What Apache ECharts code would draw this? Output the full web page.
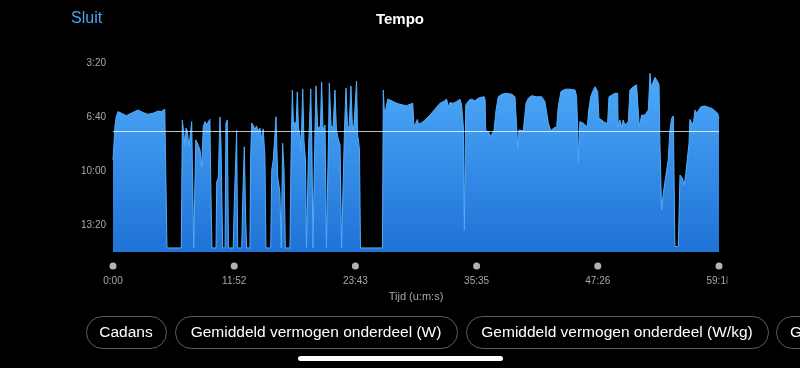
<!DOCTYPE html>
<html>
<head>
<meta charset="utf-8">
<script src="https://cdn.jsdelivr.net/npm/echarts@6/dist/echarts.min.js"></script>
<style>
html,body{margin:0;padding:0;background:#000;}
#c{width:800px;height:368px;}
</style>
</head>
<body>
<div id="c"></div>
<script>
// Time (s) and pace (s per km) samples
var paceTimes = [0,12,19,29,49,78,107,147,176,205,235,264,284,304,313,317,
401,407,413,423,429,436,446,456,462,468,474,481,486,495,505,511,521,530,540,550,560,569,575,581,
605,609,618,628,634,644,658,663,671,678,706,712,726,732,756,761,771,779,785,
804,808,814,825,834,842,853,863,873,882,892,898,926,932,941,957,967,980,988,992,996,1004,1012,1039,
1045,1053,1060,1069,1074,1082,1089,1098,1104,1114,1121,1130,1136,1142,1148,1161,1168,1174,1183,
1186,1192,1201,1209,1218,1225,1233,1245,1253,1262,1266,1270,1280,1292,1303,1312,1321,1333,1342,
1353,1359,1368,1377,1386,1397,1406,1415,1430,1436,1441,1447,1453,1582,
1587,1593,1603,1613,1626,1646,1666,1685,1704,1724,1744,1760,1767,1777,1787,1793,1812,1832,1861,
1890,1920,1939,1959,1968,1978,1998,2018,2037,2047,2057,2063,2071,2080,2092,2106,2125,2143,2161,
2179,2185,2188,2204,2218,2227,2237,2249,2262,2282,2311,2341,2360,2370,2376,2384,2394,2409,2425,
2438,2458,2487,2517,2536,2556,2571,2585,2605,2614,2630,2654,2683,2713,2722,2728,2732,2741,2761,
2785,2793,2805,2816,2830,2846,2853,2869,2889,2904,2912,2928,2947,2963,2966,2976,2986,2996,3005,
3015,3025,3035,3055,3074,3084,3090,3104,3123,3133,3143,3153,3159,3172,3182,3198,3206,3211,3221,
3231,3245,3260,3270,3280,3290,3299,3319,3329,3343,3354,3363,3372,3382,3387,3398,3407,3417,3427,
3437,3452,3476,3495,3515,3534,3550,3558];
var paceValues = [559,430,400,380,386,395,386,374,383,390,386,378,380,371,371,885,
885,411,405,504,441,452,510,504,417,420,885,885,485,496,491,522,584,436,417,430,417,409,681,885,
885,640,626,400,496,885,885,423,411,885,885,719,450,885,885,719,510,781,885,
885,559,422,433,448,433,452,441,485,444,547,885,885,596,559,399,621,681,885,885,497,596,885,885,
559,300,430,419,448,307,441,467,522,296,485,559,885,885,522,296,522,885,885,
448,285,430,448,430,270,448,430,885,885,448,274,430,441,300,448,478,504,885,
885,448,293,433,441,285,448,430,267,467,485,522,885,885,
300,380,368,334,337,343,349,353,356,358,353,349,436,423,409,427,421,411,393,
371,349,343,334,362,347,349,343,334,356,436,819,356,347,337,334,340,331,327,
325,337,451,454,473,460,451,374,325,316,312,316,325,436,516,448,444,451,349,
331,321,325,325,343,423,451,442,436,362,306,297,297,300,325,436,566,417,423,
436,374,325,306,288,306,405,411,421,423,325,319,312,312,436,411,436,411,430,
436,417,300,288,281,279,436,393,393,386,374,238,288,269,253,269,281,496,744,
683,621,559,448,405,396,880,880,615,627,652,609,609,497,409,411,430,374,386,
380,362,359,364,368,377,386,405];
var averagePace = 452;
var yTicks = [200, 400, 600, 800];
var xTickStep = 711.6;
var totalTime = 3558;
var titleText = 'Tempo';
var closeText = 'Sluit';
var xAxisTitle = 'Tijd (u:m:s)';
var chipLabels = ['Cadans', 'Gemiddeld vermogen onderdeel (W)', 'Gemiddeld vermogen onderdeel (W/kg)', 'G'];

function fmt(v) {
  var s = Math.round(v);
  var m = Math.floor(s / 60);
  var r = s % 60;
  return m + ':' + (r < 10 ? '0' : '') + r;
}

var seriesData = paceTimes.map(function (t, i) { return [t, paceValues[i]]; });
var FONT = '"Liberation Sans", Arial, sans-serif';

var chart = echarts.init(document.getElementById('c'), null, {renderer: 'canvas'});

// chips (pills) layout
var chipX = [86, 175, 466, 776];
var chipW = [80, 282, 302, 80];
var graphics = [
  {type: 'text', left: 71, top: 11, style: {text: closeText, fill: '#4ba3ee', font: '16px ' + FONT}},
  {type: 'text', x: 400, y: 20, style: {text: titleText, fill: '#ffffff', font: 'bold 15px ' + FONT, align: 'center', verticalAlign: 'middle'}},
  {type: 'rect', x: 727.5, y: 271, z: 100, shape: {width: 40, height: 20}, style: {fill: '#000'}},
  {type: 'rect', x: 298, y: 356, shape: {width: 205, height: 5, r: 2.5}, style: {fill: '#ffffff'}}
];
chipLabels.forEach(function (lab, i) {
  graphics.push({type: 'rect', x: chipX[i] + 0.5, y: 316.5, shape: {width: chipW[i], height: 32, r: 16},
    style: {fill: '#000', stroke: '#5e5e5e', lineWidth: 1}});
  graphics.push({type: 'text', x: i === 3 ? 790 : chipX[i] + chipW[i] / 2, y: 333,
    style: {text: lab, fill: '#ffffff', font: '15.5px ' + FONT, align: i === 3 ? 'left' : 'center', verticalAlign: 'middle'}});
});

chart.setOption({
  backgroundColor: '#000',
  animation: false,
  grid: {left: 113, right: 81, top: 9, bottom: 116},
  xAxis: {
    type: 'value', min: 0, max: totalTime, interval: xTickStep,
    axisLine: {show: false}, axisTick: {show: false}, splitLine: {show: false},
    name: xAxisTitle, nameLocation: 'middle', nameGap: 39,
    nameTextStyle: {color: '#a8a8a8', fontSize: 11, fontFamily: FONT},
    axisLabel: {
      margin: 9,
      formatter: function (v) { return '{d|}\n{t|' + fmt(v) + '}'; },
      rich: {
        d: {width: 7, height: 7, borderRadius: 3.5, backgroundColor: '#b3b3b3', lineHeight: 10},
        t: {color: '#a8a8a8', fontSize: 10, fontFamily: FONT, lineHeight: 20}
      }
    }
  },
  yAxis: {
    type: 'value', inverse: true, min: 0, max: 900, interval: 200,
    axisLine: {show: false}, axisTick: {show: false}, splitLine: {show: false},
    axisLabel: {
      margin: 7, color: '#a8a8a8', fontSize: 10, fontFamily: FONT,
      formatter: function (v) { return yTicks.indexOf(v) >= 0 ? fmt(v) : ''; }
    }
  },
  graphic: graphics,
  series: [{
    type: 'line',
    data: seriesData,
    showSymbol: false,
    symbol: 'none',
    lineStyle: {color: '#52acfb', width: 1},
    areaStyle: {
      origin: 'end',
      opacity: 1,
      color: new echarts.graphic.LinearGradient(0, 0, 0, 1, [
        {offset: 0, color: '#4eaaf9'},
        {offset: 1, color: '#1f72d6'}
      ])
    },
    markLine: {
      silent: true,
      symbol: ['none', 'none'],
      label: {show: false},
      lineStyle: {color: 'rgba(255,255,255,0.75)', width: 1, type: 'solid'},
      emphasis: {disabled: true},
      data: [{yAxis: averagePace}]
    }
  }]
});
</script>
</body>
</html>
